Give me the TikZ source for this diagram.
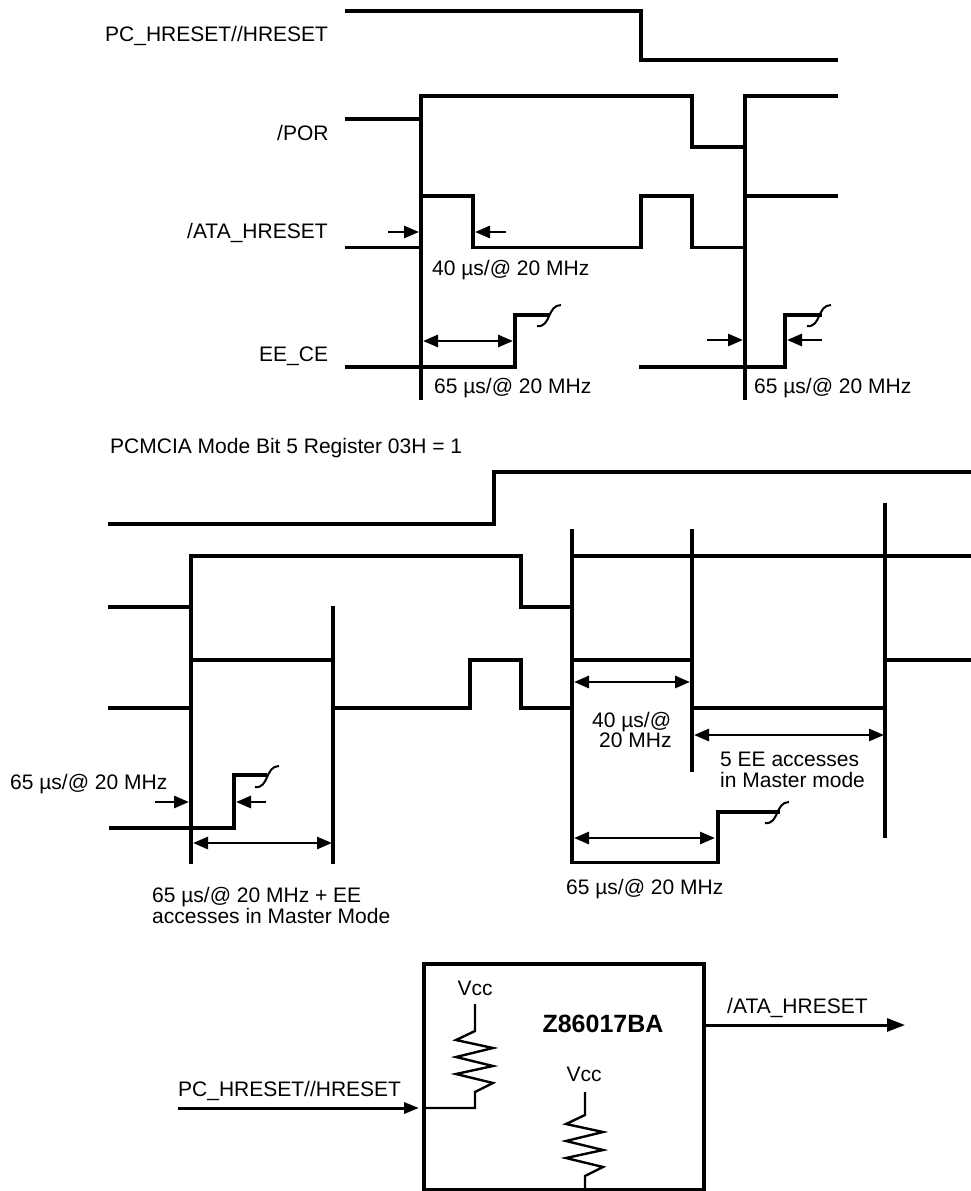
\documentclass[tikz,border=0pt]{standalone}
\usepackage{fontspec}
\setmainfont{Liberation Sans}
\usetikzlibrary{arrows.meta}
\tikzset{
  sig/.style={line width=3.6pt,line cap=butt,line join=miter},
  wire/.style={line width=2.4pt,line join=miter},
  sq/.style={line width=2pt},
  dim/.style={line width=2.8pt,-{Triangle[length=15pt,width=12pt]}},
  dimb/.style={line width=2.8pt,{Triangle[length=15pt,width=12pt]}-{Triangle[length=15pt,width=12pt]}},
  txt/.style={font=\fontsize{21}{21}\selectfont,inner sep=0pt,anchor=west},
  lab/.style={font=\fontsize{21}{20.5}\selectfont,inner sep=0pt,anchor=west,align=left},
}
\newcommand{\squig}[2]{\draw[sq] (#1-12,#2+11) .. controls (#1+2,#2+13) and (#1-2,#2-10) .. (#1+12,#2-10);}
\begin{document}
\begin{tikzpicture}[x=1pt,y=-1pt]
\useasboundingbox (0,0) rectangle (971,1191);
% top timing
\node[txt] (t1) at (105,36) {PC\_HRESET//HRESET};
\node[txt] (t2) at (277,133) {/POR};
\node[txt] (t3) at (187,233) {/ATA\_HRESET};
\node[txt] (t4) at (259,356.5) {EE\_CE};
\draw[sig] (345,11)--(641,11)--(641,60)--(838,60);
\draw[sig] (345,119)--(421,119);
\draw[sig] (421,94.2)--(421,400);
\draw[sig] (421,96)--(692,96)--(692,147)--(745,147);
\draw[sig] (745,94.2)--(745,400);
\draw[sig] (745,96)--(838,96);
\draw[sig] (345,247.5)--(421,247.5);
\draw[sig] (421,196)--(473,196)--(473,247.5)--(641,247.5)--(641,196)--(692,196)--(692,247.5)--(745,247.5);
\draw[sig] (745,196)--(838,196);
\draw[sig] (345,367)--(515,367)--(515,315)--(550,315);
\squig{549}{315}
\draw[sig] (639,367)--(785,367)--(785,315)--(822,315);
\squig{819}{315}
\draw[dim] (388,232)--(419,232);
\draw[dim] (506,232)--(475,232);
\draw[dimb] (423,341)--(513,341);
\draw[dim] (707,340)--(743,340);
\draw[dim] (822,340)--(787,340);
\node[txt] (n1) at (432,270) {40 µs/@ 20 MHz};
\node[txt] (n2) at (434,388) {65 µs/@ 20 MHz};
\node[txt] (n3) at (754,388) {65 µs/@ 20 MHz};
% middle timing
\node[txt] (m0) at (110,448.5) {PCMCIA Mode Bit 5 Register 03H = 1};
\draw[sig] (108,524)--(494,524)--(494,472)--(971,472);
\draw[sig] (108,607)--(191,607);
\draw[sig] (191,554.2)--(191,864);
\draw[sig] (191,556)--(521,556)--(521,607)--(572,607);
\draw[sig] (572,529)--(572,864);
\draw[sig] (570,556)--(971,556);
\draw[sig] (692,529)--(692,772);
\draw[sig] (885,503)--(885,838);
\draw[sig] (108,708)--(191,708);
\draw[sig] (191,660)--(333,660);
\draw[sig] (333,606)--(333,864);
\draw[sig] (333,708)--(470,708)--(470,660)--(521,660)--(521,708)--(572,708);
\draw[sig] (570,660)--(692,660);
\draw[sig] (692,708)--(885,708);
\draw[sig] (885,660)--(971,660);
\draw[sig] (109,828)--(234,828)--(234,775)--(267,775);
\squig{267}{776}
\draw[dim] (155,802)--(189,802);
\draw[dim] (266,802)--(236,802);
\draw[dimb] (193,843)--(332,843);
\node[txt] (m1) at (10,784) {65 µs/@ 20 MHz};
\node[lab] (m2) at (152,905.5) {65 µs/@ 20 MHz + EE\\accesses in Master Mode};
\draw[dimb] (574,682)--(690,682);
\node[lab] (m3) at (592,730) {40 µs/@\\\hspace*{7pt}20 MHz};
\draw[dimb] (694,735)--(884,735);
\node[lab] (m4) at (720,770) {5 EE accesses\\in Master mode};
\draw[sig] (570,862.5)--(718,862.5)--(718,812)--(780,812);
\squig{777}{812}
\draw[dimb] (574,838)--(715,838);
\node[txt] (m5) at (566,889) {65 µs/@ 20 MHz};
% block
\draw[sig] (424,964) rectangle (704,1190);
\node[font=\fontsize{25}{25}\selectfont\bfseries,inner sep=0pt] (chip) at (603,1024) {Z86017BA};
\node[font=\fontsize{21}{21}\selectfont,inner sep=0pt] (v1) at (475,988) {Vcc};
\node[font=\fontsize{21}{21}\selectfont,inner sep=0pt] (v2) at (584,1074) {Vcc};
\draw[wire] (475,1004)--(475,1031)--(456,1040)--(493,1048)--(456,1057)--(493,1066)--(456,1074)--(493,1083)--(475,1092)--(475,1108)--(424,1108);
\draw[wire] (585,1092)--(585,1115)--(566,1124)--(603,1132)--(566,1141)--(603,1150)--(566,1158)--(603,1167)--(585,1176)--(585,1190);
\node[txt] (p1) at (178,1091) {PC\_HRESET//HRESET};
\coordinate (pa) at (178,1108);
\coordinate (pb) at (419,1108);
\draw[line width=3pt,-{Triangle[length=15pt,width=11pt]}] (pa)--(pb);
\node[txt] (p2) at (727,1008) {/ATA\_HRESET};
\coordinate (qa) at (704,1025);
\coordinate (qb) at (905,1025);
\draw[line width=3pt,-{Triangle[length=18pt,width=13pt]}] (qa)--(qb);
\end{tikzpicture}
\end{document}
